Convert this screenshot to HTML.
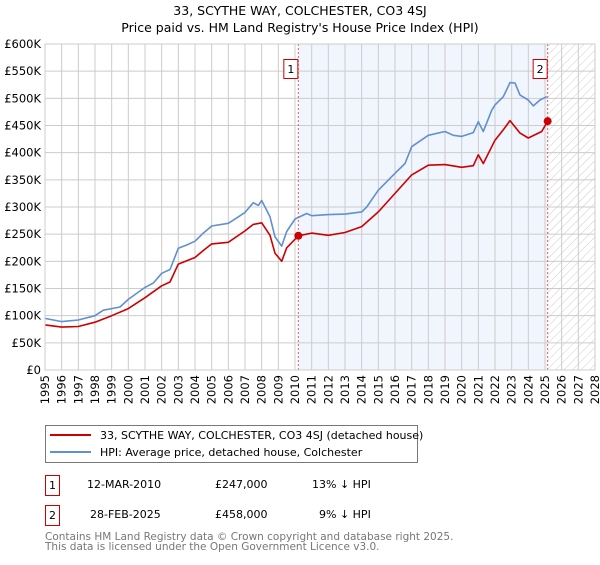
<!DOCTYPE html>
<html><head><meta charset="utf-8"><style>
body{margin:0;width:600px;height:560px;background:#fff;font-family:"Liberation Sans","DejaVu Sans",sans-serif;overflow:hidden}
svg text{font-family:"DejaVu Sans","Liberation Sans",sans-serif}
</style></head><body>
<svg id="c" width="600" height="560" xmlns="http://www.w3.org/2000/svg">
<defs><pattern id="hatch" width="6" height="6" patternUnits="userSpaceOnUse" patternTransform="rotate(45)"><line x1="0" y1="0" x2="0" y2="6" stroke="#ccc" stroke-width="1"/></pattern></defs>
<text x="300" y="15" text-anchor="middle" font-size="12.5">33, SCYTHE WAY, COLCHESTER, CO3 4SJ</text>
<text x="300" y="32" text-anchor="middle" font-size="12.5">Price paid vs. HM Land Registry's House Price Index (HPI)</text>
<g id="plot"></g>
<g>
<rect x="45.5" y="425.5" width="372" height="37" fill="#fff" stroke="#777"/>
<line x1="50" y1="435" x2="91" y2="435" stroke="#cc0000" stroke-width="2"/>
<text x="100" y="439" font-size="11">33, SCYTHE WAY, COLCHESTER, CO3 4SJ (detached house)</text>
<line x1="50" y1="452" x2="91" y2="452" stroke="#6090d0" stroke-width="2"/>
<text x="100" y="456" font-size="11">HPI: Average price, detached house, Colchester</text>
</g>
<g font-size="11">
<rect x="45.5" y="475.5" width="14" height="20" fill="#fff" stroke="#cc0000"/><text x="52.5" y="489" text-anchor="middle">1</text>
<text x="87" y="488">12-MAR-2010</text><text x="215" y="488">£247,000</text><text x="312" y="488">13% ↓ HPI</text>
<rect x="45.5" y="505.5" width="14" height="20" fill="#fff" stroke="#cc0000"/><text x="52.5" y="519" text-anchor="middle">2</text>
<text x="90" y="518">28-FEB-2025</text><text x="215" y="518">£458,000</text><text x="319" y="518">9% ↓ HPI</text>
</g>
<text x="45" y="540" font-size="10.5" fill="#777">Contains HM Land Registry data © Crown copyright and database right 2025.</text>
<text x="45" y="550" font-size="10.5" fill="#777">This data is licensed under the Open Government Licence v3.0.</text>
</svg>
<script>
const hpiYears=[1995,1996,1997,1998,1998.5,1999,1999.5,2000,2001,2001.5,2002,2002.5,2003,2003.5,2004,2004.5,2005,2006,2006.5,2007,2007.5,2007.8,2008,2008.5,2008.8,2009.2,2009.5,2010,2010.7,2011,2012,2013,2014,2014.3,2015,2016,2016.6,2017,2018,2019,2019.5,2020,2020.7,2021,2021.3,2021.8,2022,2022.5,2022.9,2023.2,2023.5,2024,2024.3,2024.7,2025.1];
const hpiValues=[95,89,92,100,110,113,116,130,152,160,178,185,224,230,237,252,265,270,280,290,308,303,312,282,245,228,255,278,288,284,286,287,291,300,331,362,380,411,432,439,432,430,437,457,439,478,488,503,529,528,506,497,486,497,503];
const priceYears=[1995,1996,1997,1998,1999,2000,2001,2002,2002.5,2003,2004,2004.5,2005,2006,2007,2007.5,2008,2008.5,2008.8,2009.2,2009.5,2010.2,2011,2012,2013,2014,2015,2016,2017,2018,2019,2020,2020.7,2021,2021.3,2022,2022.5,2022.9,2023.5,2024,2024.8,2025.16];
const priceValues=[83,79,80,88,100,113,133,155,162,195,207,220,232,235,256,268,271,248,215,200,225,247,252,248,253,264,291,325,359,377,378,373,376,396,380,423,442,459,436,427,439,458];
const saleYears=[2010.2,2025.16];
const saleValues=[247,458];
const saleLabels=["1","2"];
const yTicks=[0,50,100,150,200,250,300,350,400,450,500,550,600];
const xTicks=[1995,1996,1997,1998,1999,2000,2001,2002,2003,2004,2005,2006,2007,2008,2009,2010,2011,2012,2013,2014,2015,2016,2017,2018,2019,2020,2021,2022,2023,2024,2025,2026,2027,2028];

const L=45,R=595,T=44,B=370;
const xs=y=>L+(y-1995)/(2028-1995)*(R-L);
const ys=v=>B-v/600*(B-T);
const NS='http://www.w3.org/2000/svg';
const g=document.getElementById('plot');
function mk(t,a,p){const e=document.createElementNS(NS,t);for(const k in a)e.setAttribute(k,a[k]);(p||g).appendChild(e);return e;}
mk('rect',{x:L,y:T,width:R-L,height:B-T,fill:'#fff'});
const sh=mk('rect',{x:xs(saleYears[0]),y:T,width:xs(saleYears[1])-xs(saleYears[0]),height:B-T,fill:'#eef3fc',opacity:0.8});


const ht=mk('rect',{x:xs(saleYears[1]),y:T,width:R-xs(saleYears[1]),height:B-T,fill:'url(#hatch)'});


yTicks.forEach(v=>{
  mk('line',{x1:L,x2:R,y1:ys(v),y2:ys(v),stroke:'#ccc','stroke-width':1});
  const t=mk('text',{x:L-4,y:ys(v)+4,'text-anchor':'end','font-size':11.5});t.textContent='£'+(v===0?'0':v+'K');
  
  
});
xTicks.forEach(y=>{
  mk('line',{x1:xs(y),x2:xs(y),y1:T,y2:B,stroke:'#ccc','stroke-width':1});
  const t=mk('text',{x:0,y:0,'text-anchor':'end','font-size':11.5,transform:`translate(${xs(y)+4},${B+5}) rotate(-90)`});t.textContent=y;
  
  
});
function line(xa,va,col,name){
  const p=mk('polyline',{points:xa.map((x,i)=>xs(x).toFixed(1)+','+ys(va[i]).toFixed(1)).join(' '),fill:'none',stroke:col,'stroke-width':1.6,'stroke-linejoin':'round'});
  
  
}
line(hpiYears,hpiValues,'#6090d0','hpi-line');
line(priceYears,priceValues,'#cc0000','price-paid-line');
saleYears.forEach((y,i)=>{
  mk('line',{x1:xs(y),x2:xs(y),y1:T,y2:B,stroke:'#e06060','stroke-width':1,'stroke-dasharray':'2,2'});
  const c=mk('circle',{cx:xs(y),cy:ys(saleValues[i]),r:4,fill:'#cc0000'});
  
  
  mk('rect',{x:xs(y)-14.5,y:59.5,width:14,height:19,fill:'#fff',stroke:'#cc0000'});
  const t=mk('text',{x:xs(y)-7.5,y:73,'text-anchor':'middle','font-size':11});t.textContent=saleLabels[i];
  
  
});
mk('rect',{x:L,y:T,width:R-L,height:B-T,fill:'none',stroke:'#ccc'});
</script>
</body></html>
